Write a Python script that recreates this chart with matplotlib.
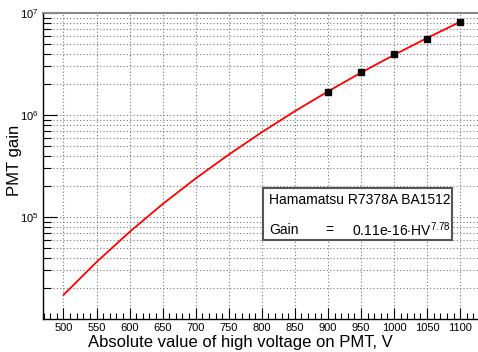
import numpy as np
import matplotlib
matplotlib.use("Agg")
import matplotlib.pyplot as plt
from matplotlib.ticker import LogLocator, MultipleLocator, FixedLocator, NullFormatter
from matplotlib.patches import Rectangle

plt.rcParams["font.family"] = ["Liberation Sans", "DejaVu Sans"]
plt.rcParams["mathtext.fontset"] = "custom"
plt.rcParams["mathtext.rm"] = "Liberation Sans"
plt.rcParams["mathtext.it"] = "Liberation Sans:italic"

# fit curve
fit_hv = [500, 550, 600, 650, 700, 750, 800, 850, 900, 950, 1000, 1050, 1100]
fit_gain = [1.72e4, 3.62e4, 7.14e4, 1.34e5, 2.39e5, 4.09e5, 6.78e5,
            1.09e6, 1.70e6, 2.60e6, 3.88e6, 5.69e6, 8.18e6]

# measured points
meas_hv = [900, 950, 1000, 1050, 1100]
meas_gain = [1.68e6, 2.62e6, 3.96e6, 5.60e6, 8.17e6]

xticks = [500, 550, 600, 650, 700, 750, 800, 850, 900, 950, 1000, 1050, 1100]
yticks = [1e5, 1e6, 1e7]
ytick_labels = [r"$10^{5}$", r"$10^{6}$", r"$10^{7}$"]

fig = plt.figure(figsize=(4.78, 3.52), dpi=100)
ax = fig.add_axes([43 / 478, 1 - 319 / 352, 1 - 43 / 478, (319 - 13) / 352])

ax.set_yscale("log")
ax.set_xlim(469, 1127)
ax.set_ylim(1e4, 1e7)

ax.set_xticks(xticks)
ax.set_xticklabels([str(v) for v in xticks], fontsize=8)
ax.xaxis.set_minor_locator(MultipleLocator(10))
ax.yaxis.set_major_locator(FixedLocator(yticks))
ax.set_yticklabels(ytick_labels, fontsize=8)
ax.yaxis.set_minor_locator(LogLocator(base=10, subs=np.arange(2, 10)))
ax.yaxis.set_minor_formatter(NullFormatter())

ax.grid(True, which="major", axis="x", color="#777777", linestyle=(0, (1, 2)), linewidth=0.8)
ax.grid(True, which="both", axis="y", color="#777777", linestyle=(0, (1, 2)), linewidth=0.8)

ax.tick_params(axis="x", which="major", direction="in", length=8, width=0.8, pad=3)
ax.tick_params(axis="x", which="minor", direction="in", length=4, width=0.8)
ax.tick_params(axis="y", which="major", direction="in", length=10, width=0.8, pad=3)
ax.tick_params(axis="y", which="minor", direction="in", length=6, width=0.8)

ax.plot(fit_hv, fit_gain, color="red", linewidth=1.3, zorder=3)
ax.plot(meas_hv, meas_gain, linestyle="none", marker="s", markersize=4.5,
        color="black", zorder=4)

ax.spines["right"].set_visible(False)
ax.spines["top"].set_color("#888888")
ax.spines["top"].set_linewidth(1.5)
ax.spines["left"].set_linewidth(1.0)
ax.spines["bottom"].set_linewidth(1.0)

fig.text(15 / 478, 1 - 160 / 352, "PMT gain", rotation=90, fontsize=12,
         ha="center", va="center")
fig.text(240 / 478, 1 - 342 / 352, "Absolute value of high voltage on PMT, V",
         fontsize=12, ha="center", va="center")

# label box
box = Rectangle((263 / 478, 1 - 240 / 352), (452 - 263) / 478, (240 - 188) / 352,
                transform=fig.transFigure, facecolor="white", edgecolor="#555555",
                linewidth=1.5, zorder=5)
fig.patches.append(box)
fig.text(269 / 478, 1 - 200 / 352, "Hamamatsu R7378A BA1512", fontsize=10,
         ha="left", va="center", zorder=6)
fig.text(269 / 478, 1 - 230 / 352, "Gain", fontsize=10, ha="left", va="center", zorder=6)
fig.text(325 / 478, 1 - 230 / 352, "=", fontsize=10, ha="left", va="center", zorder=6)
fig.text(352 / 478, 1 - 230 / 352, r"0.11e-16$\cdot$HV$^{7.78}$", fontsize=10,
         ha="left", va="center", zorder=6)

fig.savefig("out.png", dpi=100)
